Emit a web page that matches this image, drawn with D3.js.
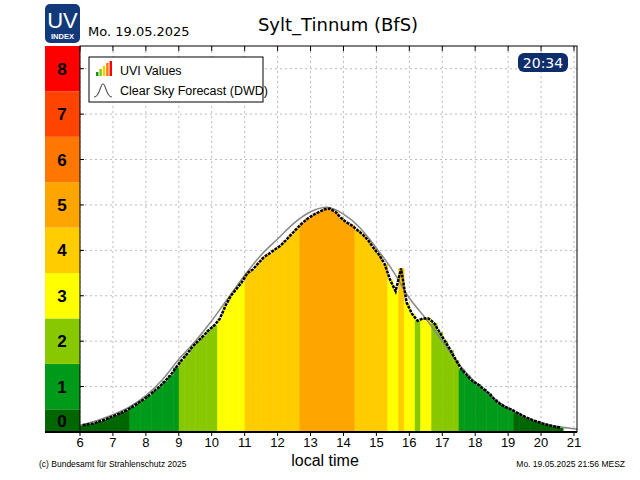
<!DOCTYPE html>
<html><head><meta charset="utf-8">
<script src="https://cdn.jsdelivr.net/npm/d3@7"></script>
<style>body{margin:0;background:#fff}svg{font-family:"DejaVu Sans",sans-serif}</style>
</head><body><svg id="c" width="640" height="480"></svg>
<script>
const title = "Sylt_Tinnum (BfS)";
const dateLabel = "Mo. 19.05.2025";
const timeBadge = "20:34";
const xTicks = [6,7,8,9,10,11,12,13,14,15,16,17,18,19,20,21];
const bandLabels = [0,1,2,3,4,5,6,7,8];
const bandColors = ["#006600","#009a1a","#88c800","#ffff00","#ffcc00","#ffa500","#ff7700","#ff4400","#ff0000"];
const dataStart = 6, dataStep = 1/6;
const uvValues = [0.15,0.17,0.19,0.23,0.27,0.32, 0.37,0.42,0.48,0.55,0.63,0.71,
 0.80,0.90,1.0,1.12,1.25,1.42, 1.58,1.72,1.88,2.0,2.12,2.25,
 2.35,2.5,2.78,3.0,3.15,3.3, 3.5,3.58,3.72,3.85,3.93,4.02,
 4.1,4.22,4.35,4.48,4.6,4.7, 4.78,4.84,4.9,4.92,4.85,4.72,
 4.62,4.55,4.45,4.35,4.22,4.05, 3.9,3.7,3.35,3.1,3.6,2.85,
 2.6,2.45,2.5,2.5,2.4,2.2, 2.0,1.8,1.58,1.38,1.25,1.12,
 1.05,0.95,0.85,0.72,0.62,0.55, 0.5,0.43,0.37,0.31,0.26,0.22,
 0.18,0.15,0.12,0.1];
const clearHours = [5,5.5,6,6.5,7,7.5,8,8.5,9,9.5,10,10.5,11,11.5,12,12.5,13,13.5,14,14.5,15,15.5,16,16.5,17,17.5,18,18.5,19,19.5,20,20.5,21,21.1];
const clearValues = [0.03,0.06,0.15,0.25,0.38,0.55,0.8,1.15,1.6,2.0,2.45,2.95,3.45,3.9,4.25,4.6,4.85,4.95,4.8,4.5,4.05,3.55,2.95,2.5,2.0,1.5,1.1,0.78,0.52,0.33,0.2,0.12,0.07,0.06];

const svg = d3.select("#c");
const L=80,R=577,T=46,B=432;
const x = d3.scaleLinear().domain([6,21]).range([80,574]);
const y = d3.scaleLinear().domain([0,8.5]).range([B,T]);
const g = svg.append("g");

g.selectAll(".vg").data(xTicks).join("line").attr("x1",d=>x(d)).attr("x2",d=>x(d)).attr("y1",T).attr("y2",B)
 .attr("stroke","#bbb").attr("stroke-dasharray","2,3");
g.selectAll(".hg").data(d3.range(1,9)).join("line").attr("x1",L).attr("x2",R).attr("y1",d=>y(d)).attr("y2",d=>y(d))
 .attr("stroke","#bbb").attr("stroke-dasharray","2,3");

const pts = uvValues.map((v,i)=>({t:dataStart+i*dataStep,v}));
const col = v=>bandColors[Math.min(8,Math.round(v))];
g.selectAll(".bar").data(pts).join("rect")
 .attr("x",d=>x(d.t)).attr("width",x(dataStep)-x(0)+0.5)
 .attr("y",d=>y(d.v)).attr("height",d=>B-y(d.v)).attr("fill",d=>col(d.v));

g.append("path").datum(clearHours.map((h,i)=>[h,clearValues[i]]))
 .attr("d",d3.line().x(d=>x(d[0])).y(d=>y(d[1])).curve(d3.curveMonotoneX))
 .attr("fill","none").attr("stroke","#888").attr("stroke-width",1.5);
g.append("path").datum(pts).attr("d",d3.line().x(d=>x(d.t+dataStep/2)).y(d=>y(d.v)))
 .attr("fill","none").attr("stroke","#000").attr("stroke-width",2.5).attr("stroke-dasharray","3,1");

bandLabels.forEach(k=>{
  const y0=y(Math.max(0,k-0.5)), y1=y(Math.min(8.5,k+0.5));
  svg.append("rect").attr("x",45).attr("y",y1).attr("width",35).attr("height",y0-y1).attr("fill",bandColors[k]);
  svg.append("text").attr("x",62).attr("y",(y0+y1)/2+6).attr("text-anchor","middle")
   .attr("font-size",17).attr("font-weight","bold").attr("font-family","Liberation Sans").text(k);
});
svg.append("rect").attr("x",L).attr("y",T).attr("width",R-L).attr("height",B-T).attr("fill","none").attr("stroke","#000");
svg.append("line").attr("x1",45).attr("x2",R).attr("y1",B).attr("y2",B).attr("stroke","#000").attr("stroke-width",2);
xTicks.forEach(h=>{
  svg.append("line").attr("x1",x(h)).attr("x2",x(h)).attr("y1",T).attr("y2",T+5).attr("stroke","#000");
  svg.append("line").attr("x1",x(h)).attr("x2",x(h)).attr("y1",B).attr("y2",B+4).attr("stroke","#000");
  svg.append("text").attr("x",x(h)).attr("y",447).attr("text-anchor","middle").attr("font-size",13).attr("font-family","Liberation Sans").text(h);
});
d3.range(1,9).forEach(v=>svg.append("line").attr("x1",L).attr("x2",L+4).attr("y1",y(v)).attr("y2",y(v)).attr("stroke","#000"));

svg.append("text").attr("x",338).attr("y",31).attr("text-anchor","middle").attr("font-size",18).text(title);
svg.append("text").attr("x",88).attr("y",36).attr("font-size",13).text(dateLabel);
svg.append("text").attr("x",325).attr("y",466).attr("text-anchor","middle").attr("font-size",16).attr("font-family","Liberation Sans").text("local time");
svg.append("text").attr("x",39).attr("y",467).attr("font-size",8.5).attr("font-family","Liberation Sans Narrow, Liberation Sans").text("(c) Bundesamt für Strahlenschutz 2025");
svg.append("text").attr("x",625).attr("y",467).attr("text-anchor","end").attr("font-size",8.5).attr("font-family","Liberation Sans Narrow, Liberation Sans").text("Mo. 19.05.2025  21:56  MESZ");
svg.append("rect").attr("x",45).attr("y",4).attr("width",35).attr("height",39).attr("rx",5).attr("fill","#123a7a");
svg.append("text").attr("x",62.5).attr("y",28).attr("text-anchor","middle").attr("fill","#fff").attr("font-size",22).attr("font-family","Liberation Sans").text("UV");
svg.append("text").attr("x",62.5).attr("y",39).attr("text-anchor","middle").attr("fill","#fff").attr("font-size",7.5).attr("font-weight","bold").attr("font-family","Liberation Sans").text("INDEX");
svg.append("rect").attr("x",518).attr("y",53).attr("width",50).attr("height",19).attr("rx",6).attr("fill","#0f2d6b");
svg.append("text").attr("x",543).attr("y",68).attr("text-anchor","middle").attr("fill","#fff").attr("font-size",14).text(timeBadge);
svg.append("rect").attr("x",89).attr("y",57).attr("width",174).attr("height",45).attr("fill","#fff").attr("stroke","#000");
["#009a1a","#88c800","#ffcc00","#ff7700","#ff0000"].forEach((c,i)=>{
  const h=[4,7,10,13,15][i];
  svg.append("rect").attr("x",96+i*3.4).attr("y",76-h).attr("width",2.4).attr("height",h).attr("fill",c);
});
svg.append("text").attr("x",120).attr("y",75).attr("font-size",12.5).attr("font-family","Liberation Sans").text("UVI Values");
svg.append("path").attr("d","M94,97 C100,97 100,84 103,84 C106,84 106,97 112,97").attr("fill","none").attr("stroke","#555").attr("stroke-width",1.2);
svg.append("text").attr("x",120).attr("y",95).attr("font-size",12.5).attr("font-family","Liberation Sans").text("Clear Sky Forecast (DWD)");
</script></body></html>
